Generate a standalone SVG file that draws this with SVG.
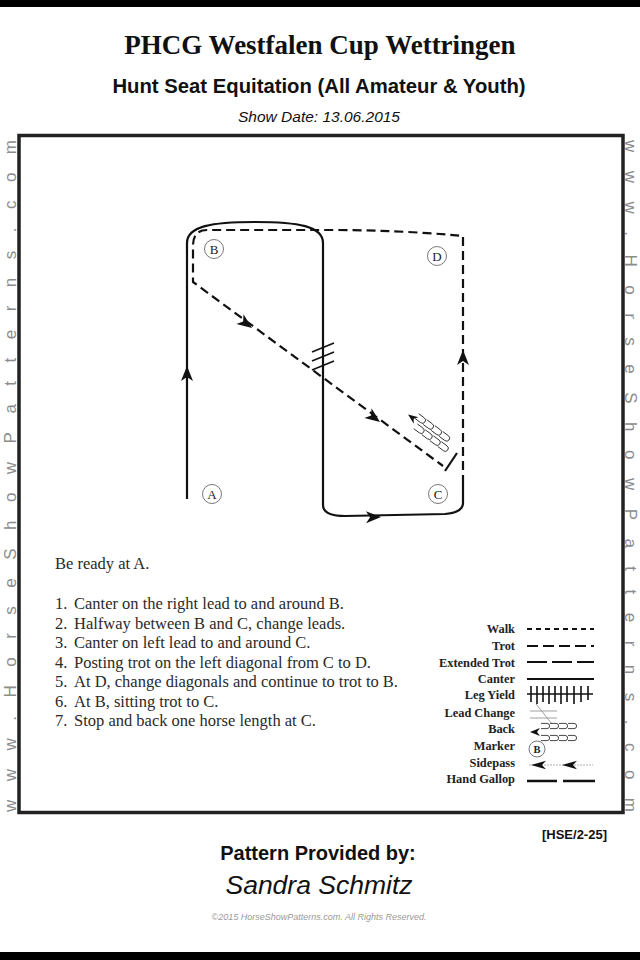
<svg xmlns="http://www.w3.org/2000/svg" width="640" height="960" viewBox="0 0 640 960">
<defs>
<style>
.ttl{font-family:"Liberation Serif",serif;font-weight:bold;fill:#111}
.sans{font-family:"Liberation Sans",Arial,sans-serif;fill:#111}
.serif{font-family:"Liberation Serif","Times New Roman",serif;fill:#2a2a2a}
.side{font-family:"Liberation Sans",Arial,sans-serif;font-size:17px;fill:#8c8c8c}
.lg{font-family:"Liberation Serif",serif;font-weight:bold;font-size:12.4px;fill:#222;text-anchor:end}
.path{fill:none;stroke:#111;stroke-width:2.2;stroke-linejoin:round}
.trot{stroke-dasharray:9 5}
.mk{fill:#fff;stroke:#555;stroke-width:0.8}
.mkt{font-family:"Liberation Serif",serif;font-size:13px;fill:#222;text-anchor:middle}
.hp{fill:none;stroke:#333;stroke-width:0.9}
</style>
<path id="ah" d="M0,0 L-15,-6 L-11,0 L-15,6 Z" fill="#111"/>
<path id="ahs" d="M0,0 L-10,-4 L-7,0 L-10,4 Z" fill="#111"/>
<path id="hp" d="M0,-2.6 h6 a2.6,2.6 0 0 1 0,5.2 h-6" class="hp"/>
<path id="hpb" d="M0,-3 h7 a3,3 0 0 1 0,6 h-7" class="hp"/>
</defs>
<rect width="640" height="960" fill="#fff"/>
<rect x="0" y="0" width="640" height="7" fill="#000"/>
<rect x="0" y="952" width="640" height="8" fill="#000"/>

<g id="header">
<text class="ttl" x="320" y="54" font-size="27" text-anchor="middle">PHCG Westfalen Cup Wettringen</text>
<text class="sans" x="319" y="93" font-size="20.3" font-weight="bold" text-anchor="middle">Hunt Seat Equitation (All Amateur &amp; Youth)</text>
<text class="sans" x="319" y="122" font-size="15.5" font-style="italic" text-anchor="middle">Show Date: 13.06.2015</text>
</g>

<rect id="frame" x="19" y="135.5" width="604" height="677" fill="none" stroke="#222" stroke-width="3.5"/>

<text class="side" transform="translate(15.5,812) rotate(-90)" textLength="672" lengthAdjust="spacing">www.HorseShowPatterns.com</text>
<text class="side" transform="translate(624.5,140) rotate(90)" textLength="672" lengthAdjust="spacing">www.HorseShowPatterns.com</text>

<g id="connectors">
<path class="path" d="M187,499 V243 C187,226 212,222 255,222 C298,222 323,226 323,243 V505 C323,512 330,516 345,516 L445,514 C457,513 463,510 463,503 V484"/>
<path class="path trot" d="M463,484 V236 Q400,230 330,230 L207,230 Q193,230 193,246 V282 L443,466"/>
<line x1="445" y1="471" x2="457" y2="453" stroke="#111" stroke-width="2.2"/>
<use href="#ah" transform="translate(187,366) rotate(-90)"/>
<use href="#ah" transform="translate(252,328) rotate(36.5)"/>
<use href="#ah" transform="translate(380,422) rotate(36.5)"/>
<use href="#ah" transform="translate(381,517) rotate(-1)"/>
<use href="#ah" transform="translate(463,350) rotate(-90)"/>
<g id="leadchange" stroke="#111" stroke-width="1.6">
<line x1="312" y1="352" x2="334" y2="343"/>
<line x1="312" y1="361" x2="334" y2="352"/>
<line x1="312" y1="370" x2="334" y2="361"/>
</g>
<g id="back" transform="translate(434,435) rotate(36.5)">
<use href="#ahs" transform="translate(-33,-1) rotate(180)"/>
<use href="#hpb" x="-25" y="-5"/>
<use href="#hpb" x="-15" y="-5"/>
<use href="#hpb" x="-5" y="-5"/>
<use href="#hpb" x="5" y="-5"/>
<use href="#hpb" x="-20" y="4"/>
<use href="#hpb" x="-10" y="4"/>
<use href="#hpb" x="0" y="4"/>
<use href="#hpb" x="10" y="4"/>
</g>
</g>

<g id="marker-A"><circle class="mk" cx="212" cy="494" r="9.5"/><text class="mkt" x="212" y="498.5">A</text></g>
<g id="marker-B"><circle class="mk" cx="214" cy="249" r="9.5"/><text class="mkt" x="214" y="253.5">B</text></g>
<g id="marker-C"><circle class="mk" cx="438" cy="494" r="9.5"/><text class="mkt" x="438" y="498.5">C</text></g>
<g id="marker-D"><circle class="mk" cx="437" cy="256" r="9.5"/><text class="mkt" x="437" y="260.5">D</text></g>

<g id="instructions" class="serif" font-size="16.5">
<text x="55" y="569">Be ready at A.</text>
<text x="55" y="609">1.</text><text x="74" y="609">Canter on the right lead to and around B.</text>
<text x="55" y="628.5">2.</text><text x="74" y="628.5">Halfway between B and C, change leads.</text>
<text x="55" y="648">3.</text><text x="74" y="648">Canter on left lead to and around C.</text>
<text x="55" y="667.5">4.</text><text x="74" y="667.5">Posting trot on the left diagonal from C to D.</text>
<text x="55" y="687">5.</text><text x="74" y="687">At D, change diagonals and continue to trot to B.</text>
<text x="55" y="706.5">6.</text><text x="74" y="706.5">At B, sitting trot to C.</text>
<text x="55" y="726">7.</text><text x="74" y="726">Stop and back one horse length at C.</text>
</g>

<g id="legend">
<text class="lg" x="515" y="633">Walk</text>
<line x1="527" y1="629" x2="594" y2="629" stroke="#111" stroke-width="2" stroke-dasharray="5 4"/>
<text class="lg" x="515" y="650">Trot</text>
<line x1="527" y1="646" x2="594" y2="646" stroke="#111" stroke-width="2" stroke-dasharray="11 5"/>
<text class="lg" x="515" y="667">Extended Trot</text>
<line x1="527" y1="662" x2="594" y2="662" stroke="#111" stroke-width="2" stroke-dasharray="20 5"/>
<text class="lg" x="515" y="683">Canter</text>
<line x1="527" y1="679" x2="594" y2="679" stroke="#111" stroke-width="2"/>
<text class="lg" x="515" y="699">Leg Yield</text>
<g stroke="#111" stroke-width="1.6">
<line x1="527" y1="694" x2="593" y2="694"/>
<path d="M531,686 V702 M537,686 V704 M543,686 V702 M549,686 V704 M555,686 V702 M561,686 V704 M567,686 V702 M574,686 V704 M581,686 V702 M588,686 V700"/>
</g>
<text class="lg" x="515" y="717">Lead Change</text>
<g stroke="#888" stroke-width="0.8">
<line x1="530" y1="711" x2="557" y2="711"/>
<line x1="530" y1="718" x2="557" y2="718"/>
<line x1="536" y1="704" x2="552" y2="724"/>
</g>
<text class="lg" x="515" y="733">Back</text>
<use href="#ahs" transform="translate(530,732) rotate(180)"/>
<use href="#hp" x="541" y="726"/><use href="#hp" x="550" y="726"/><use href="#hp" x="559" y="726"/><use href="#hp" x="568" y="726"/>
<use href="#hp" x="541" y="738"/><use href="#hp" x="550" y="738"/><use href="#hp" x="559" y="738"/><use href="#hp" x="568" y="738"/>
<text class="lg" x="515" y="750">Marker</text>
<circle class="mk" cx="537" cy="749" r="8"/>
<text x="537" y="753" font-family="Liberation Serif,serif" font-weight="bold" font-size="10.5" text-anchor="middle" fill="#222">B</text>
<text class="lg" x="515" y="767">Sidepass</text>
<line x1="529" y1="765" x2="593" y2="765" stroke="#999" stroke-width="0.8" stroke-dasharray="2 1"/>
<use href="#ah" transform="translate(531,765) rotate(180) scale(1,0.7)"/>
<use href="#ah" transform="translate(562,765) rotate(180) scale(1,0.7)"/>
<text class="lg" x="515" y="783">Hand Gallop</text>
<line x1="527" y1="781" x2="557" y2="781" stroke="#111" stroke-width="2.5"/>
<line x1="563" y1="781" x2="595" y2="781" stroke="#111" stroke-width="2.5"/>
</g>

<g id="footer">
<text class="sans" x="607" y="839" font-size="13" font-weight="bold" text-anchor="end">[HSE/2-25]</text>
<text class="sans" x="318" y="860" font-size="20" font-weight="bold" text-anchor="middle">Pattern Provided by:</text>
<text class="sans" x="319" y="894" font-size="26.5" font-style="italic" text-anchor="middle">Sandra Schmitz</text>
<text x="319" y="920" font-family="Liberation Sans,Arial,sans-serif" font-size="9" font-style="italic" fill="#9a9a9a" text-anchor="middle">©2015 HorseShowPatterns.com. All Rights Reserved.</text>
</g>
</svg>
